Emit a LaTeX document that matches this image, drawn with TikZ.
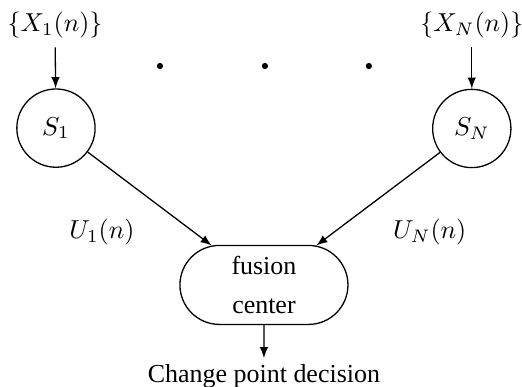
\documentclass[tikz,border=0pt]{standalone}
\usepackage[no-math]{fontspec}
\setmainfont{Liberation Serif}
\usepackage{tikz}
\usetikzlibrary{positioning,shapes.misc}

\begin{document}
\begin{tikzpicture}[>=latex, line width=0.5pt]
\tikzstyle{sensor}=[circle, draw, minimum size=1.06cm, inner sep=0pt]
\tikzstyle{fusion}=[rounded rectangle, draw, minimum width=2.51cm, minimum height=1.07cm, align=center]
\tikzstyle{dot}=[circle, fill, inner sep=0pt, minimum size=2.4pt]
\useasboundingbox (0,0) rectangle (7.07,-5.24);
\node (x1) at (0.745,-0.339) {$\{X_1(n)\}$};
\node (xn) at (6.39,-0.339) {$\{X_N(n)\}$};
\node[sensor] (s1) at (0.758,-1.735) {$S_1$};
\node[sensor] (sn) at (6.39,-1.74) {$S_N$};
\node[dot] (d1) at (2.166,-0.894) {};
\node[dot] (d2) at (3.588,-0.894) {};
\node[dot] (d3) at (4.996,-0.894) {};
\node[fusion] (fc) at (3.575,-3.859) {fusion\\[3pt] center};
\node[inner sep=2pt] (dec) at (3.575,-5.09) {Change point decision};
\path[->] (x1) edge (s1);
\path[->] (xn) edge (sn);
\path[->] (s1) edge (fc);
\path[->] (sn) edge (fc);
\path[->] (fc) edge (dec);
\node at (1.38,-3.14) {$U_1(n)$};
\node at (5.82,-3.14) {$U_N(n)$};
\end{tikzpicture}
\end{document}
